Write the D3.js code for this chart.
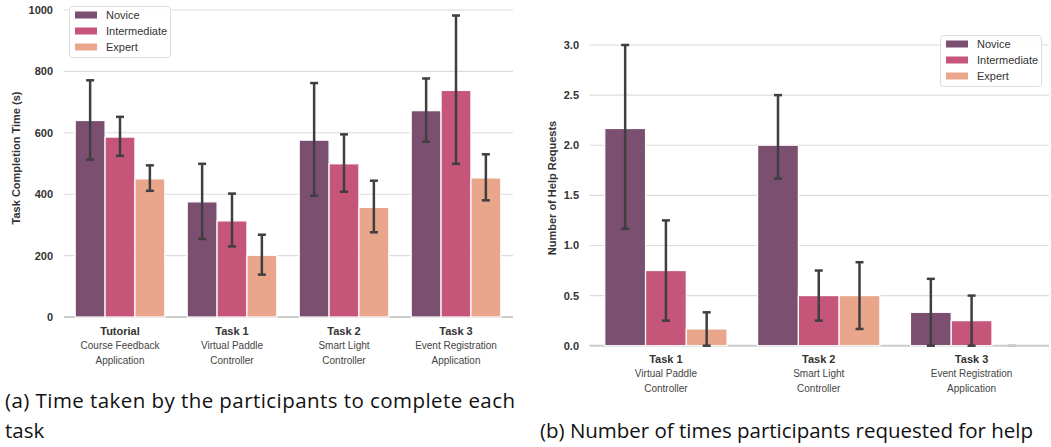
<!DOCTYPE html>
<html>
<head>
<meta charset="utf-8">
<script src="https://cdn.jsdelivr.net/npm/d3@7"></script>
<style>
  html, body { margin: 0; padding: 0; background: #fff; }
  svg { display: block; }
</style>
</head>
<body>
<svg id="chart" width="1051" height="447"></svg>
<script>
// ---- data ----
const levels = ["Novice", "Intermediate", "Expert"];
const levelColors = ["#7a4f70", "#c5567a", "#e9a68b"];

const timeTasks = ["Tutorial", "Task 1", "Task 2", "Task 3"];
const timeSubs = [["Course Feedback", "Application"], ["Virtual Paddle", "Controller"], ["Smart Light", "Controller"], ["Event Registration", "Application"]];
const timeMean = [[640, 586, 450], [375, 313, 201], [576, 499, 357], [672, 738, 453]];
const timeLo = [[513, 525, 411], [254, 230, 138], [395, 408, 276], [571, 499, 380]];
const timeHi = [[771, 652, 494], [499, 402, 268], [762, 595, 444], [777, 982, 530]];
const timeTicks = [0, 200, 400, 600, 800, 1000];

const helpTasks = ["Task 1", "Task 2", "Task 3"];
const helpSubs = [["Virtual Paddle", "Controller"], ["Smart Light", "Controller"], ["Event Registration", "Application"]];
const helpMean = [[2.167, 0.75, 0.167], [2.0, 0.5, 0.5], [0.333, 0.25, 0]];
const helpLo = [[1.167, 0.25, 0], [1.667, 0.25, 0.167], [0, 0, 0]];
const helpHi = [[3.0, 1.25, 0.333], [2.5, 0.75, 0.833], [0.667, 0.5, 0]];
const helpTicks = [0, 0.5, 1.0, 1.5, 2.0, 2.5, 3.0];

const font = "'Liberation Sans', Arial, sans-serif";
const svg = d3.select("#chart");

function drawPanel(cfg) {
    const g = svg.append("g");
    const x = d3.scaleBand().domain(cfg.tasks).range(cfg.xRange).paddingInner(0.2).paddingOuter(0.1);
    const xi = d3.scaleBand().domain(levels).range([0, x.bandwidth()]);
    const y = d3.scaleLinear().domain(cfg.yDomain).range(cfg.yRange);

    // grid
    g.selectAll("line.grid").data(cfg.ticks.slice(1)).join("line")
        .attr("x1", cfg.xRange[0]).attr("x2", cfg.xRange[1] + 1)
        .attr("y1", d => y(d)).attr("y2", d => y(d))
        .attr("stroke", "#dcdcdc").attr("stroke-width", 1.1);

    // tick labels
    g.selectAll("text.tick").data(cfg.ticks).join("text")
        .attr("x", cfg.tickX).attr("y", d => y(d)).attr("dy", "0.36em")
        .attr("text-anchor", "end")
        .style("font-family", font).style("font-size", "11px").style("font-weight", "bold")
        .style("fill", "#333")
        .text(d => cfg.tickFmt(d));

    // axis line
    g.append("line")
        .attr("x1", cfg.xRange[0]).attr("x2", cfg.xRange[1] + 1)
        .attr("y1", y(0)).attr("y2", y(0))
        .attr("stroke", "#cccccc").attr("stroke-width", 2);

    // bars
    const rows = [];
    cfg.tasks.forEach((t, i) => levels.forEach((l, j) => {
        rows.push({ task: t, level: l, j, mean: cfg.mean[i][j], lo: cfg.lo[i][j], hi: cfg.hi[i][j] });
    }));

    g.selectAll("rect.bar").data(rows).join("rect")
        .attr("x", d => x(d.task) + xi(d.level))
        .attr("width", xi.bandwidth())
        .attr("y", d => y(d.mean))
        .attr("height", d => y(0) - y(d.mean))
        .attr("fill", d => levelColors[d.j])
        .attr("stroke", "#fff").attr("stroke-width", 1.2);

    // error bars
    const cap = 4;
    const eb = g.selectAll("g.err").data(rows).join("g")
        .attr("transform", d => `translate(${x(d.task) + xi(d.level) + xi.bandwidth() / 2},0)`);
    eb.append("line").attr("y1", d => y(d.lo)).attr("y2", d => y(d.hi))
        .attr("stroke", "#3f3f3f").attr("stroke-width", 2.5);
    eb.append("line").attr("x1", -cap).attr("x2", cap).attr("y1", d => y(d.lo)).attr("y2", d => y(d.lo))
        .attr("stroke", d => d.hi === d.lo ? "#c8c8c8" : "#3f3f3f").attr("stroke-width", 2.5);
    eb.append("line").attr("x1", -cap).attr("x2", cap).attr("y1", d => y(d.hi)).attr("y2", d => y(d.hi))
        .attr("stroke", d => d.hi === d.lo ? "#c8c8c8" : "#3f3f3f").attr("stroke-width", 2.5);

    // category labels
    const cat = g.selectAll("text.cat").data(cfg.tasks).join("text")
        .attr("text-anchor", "middle")
        .style("font-family", font);
    cat.append("tspan")
        .attr("x", d => x(d) + x.bandwidth() / 2).attr("y", cfg.catY)
        .style("font-size", "11px").style("font-weight", "bold").style("fill", "#333")
        .text(d => d);
    cat.each(function (d, i) {
        cfg.subs[i].forEach((s, k) => {
            d3.select(this).append("tspan")
                .attr("x", x(d) + x.bandwidth() / 2).attr("y", cfg.catY + 14.3 * (k + 1))
                .style("font-size", "10px").style("fill", "#444")
                .text(s);
        });
    });

    // y label
    g.append("text")
        .attr("transform", `translate(${cfg.yLabelX},${cfg.yLabelY}) rotate(-90)`)
        .attr("text-anchor", "middle")
        .style("font-family", font).style("font-size", "11px").style("font-weight", "bold")
        .style("fill", "#333")
        .text(cfg.yLabel);

    // legend
    const lg = g.append("g").attr("transform", `translate(${cfg.legend[0]},${cfg.legend[1]})`);
    lg.append("rect").attr("x", 0.5).attr("y", 0.5).attr("width", 101).attr("height", 51).attr("rx", 3)
        .attr("fill", "#fff").attr("fill-opacity", 0.85).attr("stroke", "#dddddd").attr("stroke-width", 1);
    levels.forEach((l, j) => {
        lg.append("rect").attr("x", 6).attr("y", 9 + 16 * j - 3.5).attr("width", 22).attr("height", 7)
            .attr("fill", levelColors[j]);
        lg.append("text").attr("x", 37).attr("y", 9 + 16 * j).attr("dy", "0.36em")
            .style("font-family", font).style("font-size", "11px").style("fill", "#333")
            .text(l);
    });
}

drawPanel({
    tasks: timeTasks, subs: timeSubs, mean: timeMean, lo: timeLo, hi: timeHi, ticks: timeTicks,
    xRange: [64, 512], yDomain: [0, 1000], yRange: [317, 10],
    tickX: 53, tickFmt: d => d3.format("d")(d),
    catY: 335, yLabel: "Task Completion Time (s)", yLabelX: 20, yLabelY: 158,
    legend: [69, 6]
});

drawPanel({
    tasks: helpTasks, subs: helpSubs, mean: helpMean, lo: helpLo, hi: helpHi, ticks: helpTicks,
    xRange: [589.5, 1048], yDomain: [0, 3], yRange: [345.7, 45],
    tickX: 579, tickFmt: d => d3.format(".1f")(d),
    catY: 363, yLabel: "Number of Help Requests", yLabelX: 556, yLabelY: 188,
    legend: [940, 35]
});

// captions
const capFont = "'Open Sans', Lato, sans-serif";
svg.append("text").attr("x", 5).attr("y", 408)
    .attr("textLength", 510)
    .style("font-family", capFont).style("font-size", "20.5px").style("fill", "#111")
    .text("(a) Time taken by the participants to complete each");
svg.append("text").attr("x", 5).attr("y", 438)
    .style("font-family", capFont).style("font-size", "20.5px").style("fill", "#111")
    .text("task");
svg.append("text").attr("x", 540).attr("y", 438)
    .attr("textLength", 493)
    .style("font-family", capFont).style("font-size", "20.5px").style("fill", "#111")
    .text("(b) Number of times participants requested for help");
</script>
</body>
</html>
